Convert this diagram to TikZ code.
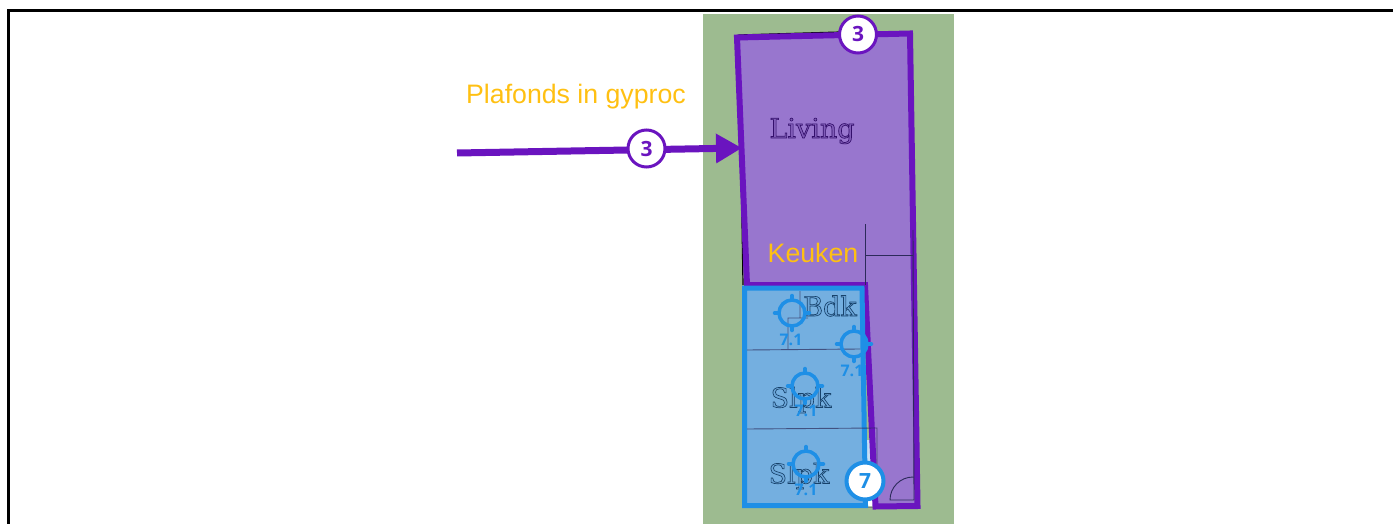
\documentclass[tikz,border=0pt]{standalone}
\usepackage{fontspec}
\setmainfont{Liberation Sans}
\newfontfamily\roomfont{DejaVu Serif}[RawFeature={embolden=2.4}]
\newfontfamily\badgefont{Open Sans}
\usetikzlibrary{arrows.meta,positioning}
\definecolor{gardengreen}{HTML}{9DBB90}
\definecolor{livingfill}{HTML}{9876CE}
\definecolor{livingline}{HTML}{6A14BF}
\definecolor{nightfill}{HTML}{74AFE0}
\definecolor{nightline}{HTML}{1E8FE6}
\definecolor{labelyellow}{HTML}{FFC012}
\definecolor{planline}{HTML}{2C2A5A}
% outlined letters of the scanned plan
\newcommand{\planletters}[3]{\special{pdf:bcolor [#1] [#2]}#3\special{pdf:ecolor}}

\begin{document}
\begin{tikzpicture}[x=1pt,y=-1pt,
            badge/.style={circle, draw, fill=white, line width=3pt, minimum size=37pt, inner sep=0pt,
                font=\badgefont\bfseries\fontsize{21}{21}\selectfont},
            plafond/.style={font=\fontsize{26.7}{30}\selectfont, text=labelyellow, inner sep=0pt},
            room/.style={font=\roomfont\fontsize{27}{30}\selectfont, inner sep=0pt},
            targetlabel/.style={font=\badgefont\bfseries\fontsize{16}{16}\selectfont, text=nightline, inner sep=0pt},
            plan/.style={draw=planline, line width=0.9pt}]
            \useasboundingbox (0,0) rectangle (1393,524);

            \draw [line width=3pt] (8,524) -- (8,11) -- (1393,11);
            \fill [gardengreen] (703,14) rectangle (954,524);

            % plan under the zones
            \draw [line width=1.2pt] (743,285) -- (739,35) -- (840,32);
            \draw [line width=1pt,gray] (866,507) -- (876,507);
            \fill [white!60!nightfill] (866,440) -- (871,440) -- (875,506) -- (867,506) -- cycle;
            \fill [white] (868,495) -- (874,495) -- (875,506) -- (868,506) -- cycle;

            % living
            \draw [fill=livingfill, draw=livingline, line width=6pt, line join=miter]
                (737,37.5) -- (910,33.5) -- (917.5,506) -- (875.5,506.5) -- (865,285) -- (747,285) -- cycle;
            \draw [plan] (865,224) -- (865,285) (865,255) -- (913,255);
            \draw [plan] (913,230) -- (914,500) -- (890,500) arc [start angle=180, end angle=270, radius=23];

            % night zone
            \draw [fill=nightfill, draw=nightline, line width=5pt, line join=miter]
                (744.5,288) -- (862,288) -- (865.5,505.5) -- (744.5,505.5) -- cycle;
            \draw [plan,opacity=.7] (747,350) -- (860,349) (747,429) -- (877,428) -- (877,470)
                (788,350) -- (788,318) -- (808,318) (800,291) -- (800,318);

            \node [room] (living) at (812,131) {\planletters{0.50 0.36 0.72}{0.20 0.06 0.42}{Living}};
            \node [room] (bdk) at (830,306) {\planletters{0.42 0.65 0.85}{0.09 0.26 0.42}{Bdk}};
            \node [room] (slpkone) at (801,400) {\planletters{0.42 0.65 0.85}{0.09 0.26 0.42}{Slpk}};
            \node [room] (slpktwo) at (799,476) {\planletters{0.42 0.65 0.85}{0.09 0.26 0.42}{Slpk}};

            \node [plafond] (plafonds) at (576,97) {Plafonds in gyproc};
            \node [plafond] (keuken) at (813,253) {Keuken};

            % targets
            \foreach \tx/\ty/\lx/\ly/\tname in {792/313/791/340/tone,854/344/852/371/ttwo,805/386/806/411/tthree,806/464/806/490/tfour}{
                \node [circle, draw=nightline, line width=3.5pt, minimum size=26pt, inner sep=0pt] (\tname) at (\tx,\ty) {};
                \foreach \ang in {0,90,180,270}
                    \draw [nightline, line width=4pt, line cap=round] (\tname.\ang) -- ++(\ang:2.5pt);
                \node [targetlabel] (\tname label) at (\lx,\ly) {7.1};
            }

            % arrow with badge
            \coordinate (arrowstart) at (457,153);
            \coordinate (arrowtip) at (742,148);
            \draw [draw=livingline, line width=7pt, -{Triangle[length=26pt,width=28pt]}] (arrowstart) -- (arrowtip);
            \node [badge, draw=livingline, text=livingline] (arrowbadge) at (646.5,148.5) {3};
            \node [badge, draw=livingline, text=livingline] (topbadge) at (858,34.5) {3};
            \node [badge, draw=nightline, text=nightline, line width=4pt] (nightbadge) at (865,481) {7};

        \end{tikzpicture}
\end{document}
